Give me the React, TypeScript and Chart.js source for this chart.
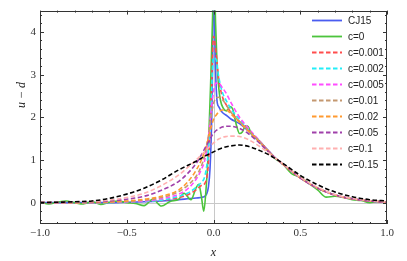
import React, { useEffect, useRef } from "react";
import { Chart, registerables } from "chart.js";

Chart.register(...registerables);

const seriesLabels = ["CJ15", "c=0", "c=0.001", "c=0.002", "c=0.005", "c=0.01", "c=0.02", "c=0.05", "c=0.1", "c=0.15"];
const seriesColors = ["#4a5cf0", "#4cc43c", "#ff4d4d", "#22eef8", "#ff4dff", "#c49870", "#ff9a30", "#a040aa", "#ffb0b0", "#000000"];
const seriesDashed = [false, false, true, true, true, true, true, true, true, true];

const xTickValues = [-1, -0.5, 0, 0.5, 1];
const xTickLabels = ["\u22121.0", "\u22120.5", "0.0", "0.5", "1.0"];
const yTickValues = [0, 1, 2, 3, 4];
const yTickLabels = ["0", "1", "2", "3", "4"];

// shared grid for the smeared (dashed) curves
const xGrid = [-1, -0.9, -0.8, -0.7, -0.6, -0.5, -0.4, -0.3, -0.2, -0.15, -0.1, -0.07, -0.05, -0.03, -0.015, 0, 0.015, 0.03, 0.05, 0.075, 0.1, 0.15, 0.2, 0.25, 0.3, 0.35, 0.4, 0.5, 0.6, 0.7, 0.8, 0.9, 1.0];
const yC0001 = [0, 0, 0, 0, 0, 0.02, 0.03, 0.05, 0.12, 0.18, 0.3, 0.4, 0.45, 0.9, 2.2, 3.9, 3.5, 2.9, 2.5, 2.28, 2.12, 1.9, 1.7, 1.5, 1.29, 1.07, 0.9, 0.58, 0.34, 0.18, 0.09, 0.04, 0.01];
const yC0002 = [0, 0, 0, 0, 0, 0.02, 0.03, 0.06, 0.15, 0.22, 0.36, 0.48, 0.62, 1.2, 2.2, 3.4, 3.35, 2.95, 2.6, 2.38, 2.2, 1.95, 1.72, 1.5, 1.29, 1.07, 0.9, 0.58, 0.34, 0.18, 0.09, 0.04, 0.01];
const yC0005 = [0, 0, 0, 0, 0.01, 0.02, 0.04, 0.09, 0.2, 0.32, 0.55, 0.78, 1.0, 1.5, 2.1, 2.6, 2.8, 2.8, 2.7, 2.55, 2.35, 2.0, 1.75, 1.52, 1.29, 1.07, 0.9, 0.58, 0.34, 0.18, 0.09, 0.04, 0.01];
const yC001 = [0, 0, 0, 0, 0.01, 0.03, 0.06, 0.12, 0.26, 0.4, 0.62, 0.86, 1.12, 1.55, 2.0, 2.32, 2.45, 2.47, 2.42, 2.28, 2.12, 1.9, 1.7, 1.5, 1.28, 1.07, 0.9, 0.58, 0.34, 0.18, 0.09, 0.04, 0.01];
const yC002 = [0, 0, 0, 0.01, 0.02, 0.04, 0.08, 0.15, 0.3, 0.48, 0.76, 1.0, 1.22, 1.5, 1.75, 1.95, 2.05, 2.12, 2.17, 2.17, 2.08, 1.88, 1.68, 1.48, 1.27, 1.07, 0.9, 0.58, 0.34, 0.18, 0.09, 0.04, 0.01];
const yC005 = [0, 0, 0.01, 0.02, 0.04, 0.08, 0.15, 0.29, 0.5, 0.68, 0.92, 1.12, 1.27, 1.42, 1.53, 1.62, 1.69, 1.73, 1.77, 1.79, 1.79, 1.74, 1.62, 1.45, 1.26, 1.07, 0.91, 0.58, 0.34, 0.18, 0.09, 0.04, 0.01];
const yC01 = [0, 0.005, 0.01, 0.03, 0.06, 0.12, 0.22, 0.4, 0.65, 0.82, 1.0, 1.12, 1.2, 1.28, 1.34, 1.4, 1.45, 1.49, 1.53, 1.55, 1.56, 1.55, 1.48, 1.36, 1.22, 1.06, 0.91, 0.6, 0.36, 0.19, 0.1, 0.05, 0.02];
const yC015 = [0, 0.01, 0.02, 0.04, 0.1, 0.2, 0.34, 0.53, 0.77, 0.87, 0.97, 1.04, 1.09, 1.13, 1.16, 1.19, 1.22, 1.25, 1.28, 1.31, 1.33, 1.35, 1.32, 1.25, 1.16, 1.05, 0.92, 0.64, 0.42, 0.25, 0.14, 0.07, 0.04];

// CJ15 (unsmeared)
const xCJ15 = [-1, -0.8, -0.6, -0.5, -0.4, -0.3, -0.2, -0.15, -0.1, -0.06, -0.04, -0.03, -0.02, -0.01, -0.005, 0, 0.005, 0.01, 0.02, 0.03, 0.05, 0.08, 0.1, 0.15, 0.2, 0.25, 0.3, 0.35, 0.4, 0.5, 0.6, 0.7, 0.8, 0.9, 1.0];
const yCJ15 = [0, 0, 0, 0.01, 0.02, 0.04, 0.07, 0.09, 0.11, 0.13, 0.2, 0.35, 0.8, 2.0, 3.3, 5.5, 4.6, 3.4, 2.4, 2.25, 2.12, 2.03, 1.96, 1.85, 1.68, 1.48, 1.28, 1.07, 0.9, 0.58, 0.34, 0.18, 0.09, 0.04, 0.01];

// c = 0 (oscillating)
const xC0 = [-1, -0.95, -0.9, -0.85, -0.8, -0.75, -0.7, -0.65, -0.6, -0.55, -0.5, -0.45, -0.4, -0.35, -0.3, -0.25, -0.2, -0.17, -0.13, -0.1, -0.085, -0.07, -0.056, -0.045, -0.03, -0.015, -0.005, 0, 0.005, 0.012, 0.02, 0.03, 0.04, 0.055, 0.075, 0.095, 0.11, 0.13, 0.15, 0.165, 0.185, 0.2, 0.22, 0.25, 0.28, 0.3, 0.35, 0.4, 0.45, 0.5, 0.55, 0.6, 0.65, 0.7, 0.75, 0.8, 0.85, 0.9, 0.95, 1.0];
const yC0 = [0.02, -0.03, 0.01, 0.04, 0.0, -0.03, 0.02, -0.04, 0.01, 0.04, 0.0, -0.02, -0.07, 0.08, -0.08, 0.03, 0.08, 0.22, 0.07, 0.35, 0.43, 0.15, -0.2, 0.2, 1.2, 3.0, 4.4, 5.2, 5.3, 4.2, 3.3, 2.7, 2.4, 2.22, 2.15, 2.25, 2.2, 1.85, 1.62, 1.65, 1.8, 1.78, 1.6, 1.5, 1.38, 1.28, 1.05, 0.9, 0.68, 0.6, 0.45, 0.3, 0.13, 0.15, 0.12, 0.07, 0.05, 0.0, 0.03, 0.0];

const zip = (xs: number[], ys: number[]) => xs.map((x, i) => ({ x, y: ys[i] }));

const seriesData = [
  zip(xCJ15, yCJ15),
  zip(xC0, yC0),
  zip(xGrid, yC0001),
  zip(xGrid, yC0002),
  zip(xGrid, yC0005),
  zip(xGrid, yC001),
  zip(xGrid, yC002),
  zip(xGrid, yC005),
  zip(xGrid, yC01),
  zip(xGrid, yC015),
];

const DASH = [4.5, 2.5];

const framePlugin = {
  id: "framePlugin",
  beforeDatasetsDraw(chart: any) {
    const { ctx, chartArea: a, scales } = chart;
    const xs = scales.x, ys = scales.y;
    ctx.save();
    ctx.strokeStyle = "#c8c8c8";
    ctx.lineWidth = 1;
    const x0 = Math.round(xs.getPixelForValue(0)) + 0.5;
    const y0 = Math.round(ys.getPixelForValue(0)) + 0.5;
    ctx.beginPath();
    ctx.moveTo(x0, a.top);
    ctx.lineTo(x0, a.bottom);
    ctx.moveTo(a.left, y0);
    ctx.lineTo(a.right, y0);
    ctx.stroke();
    ctx.restore();
  },
  afterDraw(chart: any) {
    const { ctx, chartArea: a, scales } = chart;
    const xs = scales.x, ys = scales.y;
    ctx.save();
    ctx.strokeStyle = "#333";
    ctx.lineWidth = 1;
    ctx.strokeRect(Math.round(a.left) + 0.5, Math.round(a.top) + 0.5, Math.round(a.right - a.left) - 1, Math.round(a.bottom - a.top) - 1);
    ctx.beginPath();
    for (let k = -10; k <= 10; k++) {
      const v = k / 10;
      const px = Math.round(xs.getPixelForValue(v)) + 0.5;
      const len = k % 5 === 0 ? 4 : 2;
      ctx.moveTo(px, a.bottom);
      ctx.lineTo(px, a.bottom - len);
      ctx.moveTo(px, a.top);
      ctx.lineTo(px, a.top + len);
    }
    for (let k = -2; k <= 22; k++) {
      const v = k / 5;
      if (v < ys.min || v > ys.max) continue;
      const py = Math.round(ys.getPixelForValue(v)) + 0.5;
      const len = k % 5 === 0 ? 4 : 2;
      ctx.moveTo(a.left, py);
      ctx.lineTo(a.left + len, py);
      ctx.moveTo(a.right, py);
      ctx.lineTo(a.right - len, py);
    }
    ctx.stroke();

    // axis titles
    ctx.fillStyle = "#222";
    ctx.font = "italic 12px 'Liberation Serif', 'DejaVu Serif', serif";
    ctx.textAlign = "center";
    ctx.textBaseline = "middle";
    ctx.fillText("x", (a.left + a.right) / 2, 253);
    ctx.save();
    ctx.translate(22, 95);
    ctx.rotate(-Math.PI / 2);
    ctx.fillText("u \u2212 d", 0, 0);
    ctx.restore();

    // legend
    ctx.font = "10px 'Liberation Sans', Arial, sans-serif";
    ctx.textAlign = "left";
    for (let i = 0; i < seriesLabels.length; i++) {
      const y = 20.5 + 16 * i;
      ctx.strokeStyle = seriesColors[i];
      ctx.lineWidth = 1.8;
      ctx.setLineDash(seriesDashed[i] ? DASH : []);
      ctx.beginPath();
      ctx.moveTo(312, y);
      ctx.lineTo(342, y);
      ctx.stroke();
      ctx.setLineDash([]);
      ctx.fillStyle = "#222";
      ctx.fillText(seriesLabels[i], 348, y + 0.5);
    }
    ctx.restore();
  },
};

export default function App() {
  const canvasRef = useRef<HTMLCanvasElement | null>(null);

  useEffect(() => {
    const canvas = canvasRef.current;
    if (!canvas) return;
    const datasets = seriesData.map((data, i) => ({
      label: seriesLabels[i],
      data,
      borderColor: seriesColors[i],
      backgroundColor: seriesColors[i],
      borderWidth: 1.6,
      borderDash: seriesDashed[i] ? DASH : [],
      pointRadius: 0,
      cubicInterpolationMode: "monotone" as const,
      fill: false,
      order: seriesLabels.length - i,
    }));
    const chart = new Chart(canvas, {
      type: "line",
      data: { datasets },
      options: {
        animation: false,
        responsive: false,
        maintainAspectRatio: false,
        layout: { padding: { top: 9, right: 20, left: 0, bottom: 0 } },
        plugins: { legend: { display: false }, tooltip: { enabled: false } },
        scales: {
          x: {
            type: "linear",
            min: -1,
            max: 1,
            grid: { display: false, drawTicks: false },
            border: { display: false },
            afterBuildTicks: (s: any) => {
              s.ticks = xTickValues.map((v) => ({ value: v }));
            },
            afterFit: (s: any) => {
              s.height = 37;
            },
            ticks: {
              autoSkip: false,
              maxRotation: 0,
              padding: 3,
              color: "#333",
              font: { family: "'Liberation Serif', 'DejaVu Serif', serif", size: 11 },
              callback: (_v: any, i: number) => xTickLabels[i],
            },
          },
          y: {
            type: "linear",
            min: -0.5,
            max: 4.5,
            grid: { display: false, drawTicks: false },
            border: { display: false },
            afterBuildTicks: (s: any) => {
              s.ticks = yTickValues.map((v) => ({ value: v }));
            },
            afterFit: (s: any) => {
              s.width = 40;
            },
            ticks: {
              autoSkip: false,
              padding: 4,
              color: "#333",
              font: { family: "'Liberation Serif', 'DejaVu Serif', serif", size: 11 },
              callback: (_v: any, i: number) => yTickLabels[i],
            },
          },
        },
      },
      plugins: [framePlugin],
    });
    return () => chart.destroy();
  }, []);

  return (
    <div style={{ position: "absolute", left: 0, top: 0, width: 407, height: 261, background: "#fff" }}>
      <canvas ref={canvasRef} width={407} height={261} style={{ display: "block", width: 407, height: 261 }} />
    </div>
  );
}
